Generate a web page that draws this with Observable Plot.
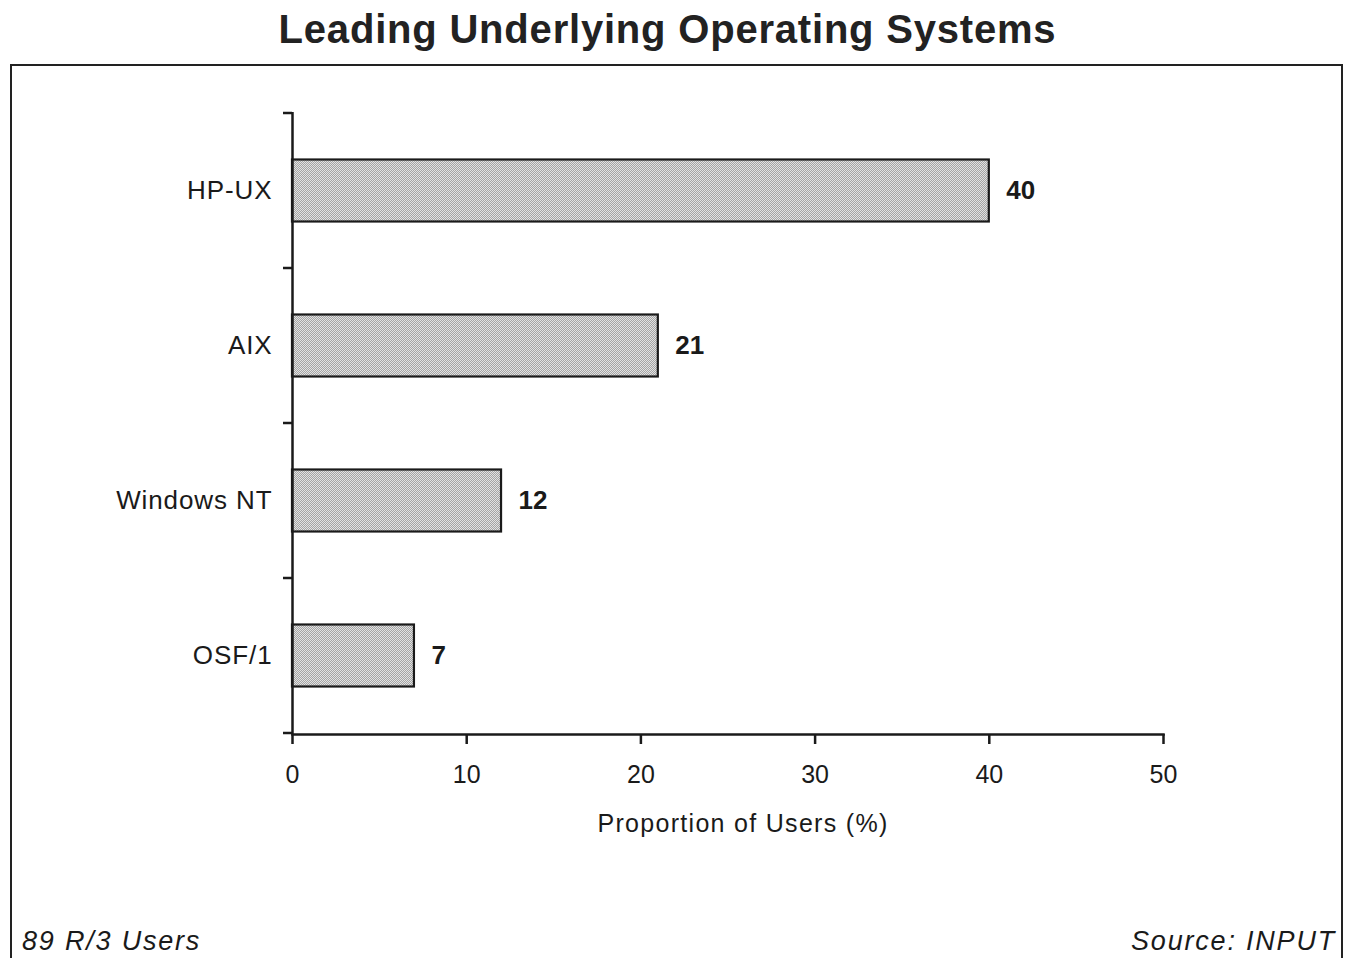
<!DOCTYPE html>
<html>
<head>
<meta charset="utf-8">
<script src="https://cdn.jsdelivr.net/npm/d3@7"></script>
<script src="https://cdn.jsdelivr.net/npm/@observablehq/plot@0.6"></script>
<style>
  html, body { margin: 0; padding: 0; background: #fff; }
  body { width: 1353px; height: 958px; position: relative; overflow: hidden;
         font-family: "Liberation Sans", Arial, Helvetica, sans-serif; color: #1a1a1a; }
  #title { position: absolute; left: 0; top: 0; width: 1335px; height: 58px;
           text-align: center; font-weight: bold; font-size: 40px; line-height: 58px; letter-spacing: 0.8px; color: #222; }
  #frame { position: absolute; left: 10px; top: 64px; width: 1329px; height: 910px;
           border: 2px solid #222; box-sizing: content-box; }
  #chart { position: absolute; left: 0; top: 65px; }
  .foot { position: absolute; font-style: italic; font-size: 27px; top: 923px; line-height: 36px; letter-spacing: 1.8px; color: #1a1a1a; }
  #footL { left: 22px; }
  #footR { right: 17px; }
  .ylab text { letter-spacing: 0.9px; }
  .xlab text { letter-spacing: 1.3px; }
</style>
</head>
<body>
<div id="title">Leading Underlying Operating Systems</div>
<div id="frame"></div>
<div id="chart"></div>
<div class="foot" id="footL">89 R/3 Users</div>
<div class="foot" id="footR">Source: INPUT</div>
<script>
const categories = ["HP-UX", "AIX", "Windows NT", "OSF/1"];
const values = [40, 21, 12, 7];
const xTicks = [0, 10, 20, 30, 40, 50];
const xLabel = "Proportion of Users (%)";

const data = categories.map((c, i) => ({os: c, value: values[i]}));

const chart = Plot.plot({
  width: 1353,
  height: 820,
  marginLeft: 292,
  marginRight: 190,
  marginTop: 47,
  marginBottom: 151,
  style: {fontFamily: "'Liberation Sans', Arial, Helvetica, sans-serif", color: "#1a1a1a", background: "transparent", overflow: "visible"},
  x: {domain: [0, 50]},
  y: {domain: categories, padding: 0},
  marks: [
    Plot.barX(data, {x: "value", y: "os", fill: "url(#stipple)", stroke: "#1a1a1a", strokeWidth: 2.2, insetTop: 46.5, insetBottom: 46.5}),
    Plot.text(data, {x: "value", y: "os", text: d => String(d.value), dx: 17, textAnchor: "start", fontWeight: "bold", fontSize: 26, fill: "#1a1a1a"}),
    Plot.ruleX([0], {stroke: "#1a1a1a", strokeWidth: 2.5}),
    Plot.frame({anchor: "bottom", stroke: "#1a1a1a", strokeWidth: 2.5}),
    Plot.axisY({tickSize: 0, tickPadding: 20, fontSize: 26, label: null, fill: "#1a1a1a", className: "ylab"}),
    Plot.axisX({ticks: xTicks, tickSize: 10, tickPadding: 21, fontSize: 25, label: null, strokeWidth: 2.5, stroke: "#1a1a1a", fill: "#1a1a1a"}),
    Plot.text([xLabel], {frameAnchor: "bottom", dy: 97, dx: 15, text: d => d, fontSize: 25, fill: "#1a1a1a", className: "xlab"})
  ]
});

// stipple pattern for bars
const svg = d3.select(chart);
const defs = svg.insert("defs", ":first-child");
const pat = defs.append("pattern").attr("id", "stipple").attr("width", 2).attr("height", 2)
  .attr("patternUnits", "userSpaceOnUse");
pat.append("rect").attr("width", 2).attr("height", 2).attr("fill", "#e2e2e2");
pat.append("rect").attr("x", 0).attr("y", 0).attr("width", 1).attr("height", 1).attr("fill", "#a4a4a4");
pat.append("rect").attr("x", 1).attr("y", 1).attr("width", 1).attr("height", 1).attr("fill", "#a4a4a4");

// boundary ticks on the y axis, placed at band edges from the y scale
const ys = chart.scale("y");
const xs = chart.scale("x");
const x0 = xs.apply(0);
const bw = ys.bandwidth;
const edges = categories.map(c => ys.apply(c)).concat([ys.apply(categories[categories.length - 1]) + bw]);
svg.append("g").attr("stroke", "#1a1a1a").attr("stroke-width", 2.5)
  .selectAll("line").data(edges).join("line")
  .attr("x1", x0 - 9).attr("x2", x0).attr("y1", d => d).attr("y2", d => d);

document.getElementById("chart").appendChild(chart);
</script>
</body>
</html>
